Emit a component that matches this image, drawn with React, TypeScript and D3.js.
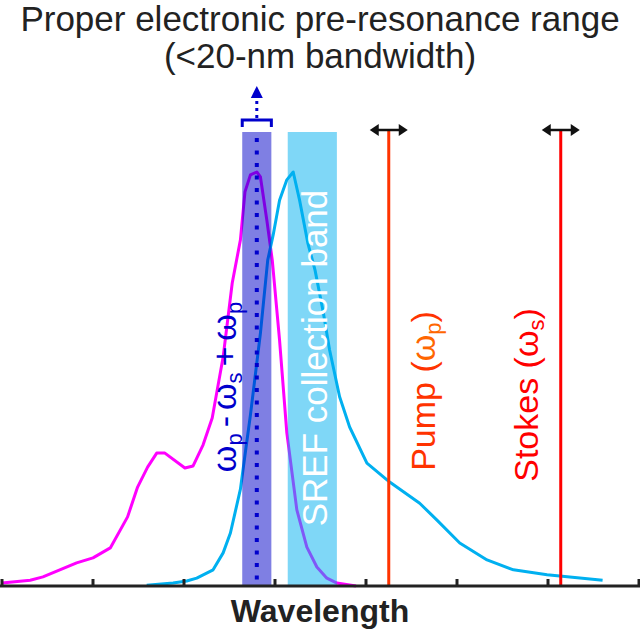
import * as d3 from "d3";

// wavelength in tick units (0..7), intensity normalised to peak = 1
const absX = [0, 0.31, 0.45, 0.82, 1.0, 1.19, 1.38, 1.49, 1.6, 1.7, 1.79, 2.01, 2.1, 2.21, 2.31, 2.43, 2.53, 2.62, 2.67, 2.73, 2.8, 2.84, 2.91, 2.97, 3.05, 3.13, 3.24, 3.35, 3.46, 3.57, 3.68, 3.89];
const absY = [0.007, 0.014, 0.022, 0.056, 0.068, 0.092, 0.167, 0.239, 0.287, 0.321, 0.321, 0.285, 0.29, 0.341, 0.406, 0.553, 0.732, 0.836, 0.952, 0.993, 1.0, 0.988, 0.884, 0.787, 0.594, 0.37, 0.184, 0.094, 0.046, 0.019, 0.007, 0.0];

const emX = [1.59, 1.88, 2.03, 2.14, 2.32, 2.43, 2.51, 2.56, 2.62, 2.67, 2.73, 2.84, 2.92, 2.98, 3.05, 3.13, 3.2, 3.27, 3.36, 3.44, 3.53, 3.6, 3.71, 3.82, 4.01, 4.26, 4.59, 4.78, 5.03, 5.33, 5.62, 5.99, 6.6];
const emY = [0.002, 0.007, 0.012, 0.019, 0.039, 0.08, 0.128, 0.176, 0.234, 0.316, 0.413, 0.611, 0.787, 0.848, 0.932, 0.981, 1.0, 0.932, 0.829, 0.763, 0.662, 0.57, 0.457, 0.384, 0.297, 0.251, 0.2, 0.159, 0.104, 0.063, 0.039, 0.027, 0.014];

const ticks = [0, 1, 2, 3, 4, 5, 6, 7];
const preBand = [2.64, 2.96];
const srefBand = [3.14, 3.68];
const preCenter = 2.8;
const pumpX = 4.25;
const stokesX = 6.14;

const W = 640;
const H = 641;
const FONT = "'Liberation Sans', Arial, sans-serif";

export default function App() {
  const x = d3.scaleLinear().domain([0, 7]).range([2, 639]);
  const y = d3.scaleLinear().domain([0, 1]).range([586, 172]);

  const absPath = d3.line<number>()
    .x((d) => x(d))
    .y((_, i) => y(absY[i]))(absX);
  const emPath = d3.line<number>()
    .x((d) => x(d))
    .y((_, i) => y(emY[i]))(emX);

  const y0 = y(0);
  const bandTop = 132;

  const dblArrow = (cx: number, cy: number) => (
    <g>
      <line x1={cx - 12} x2={cx + 12} y1={cy} y2={cy} stroke="#111" strokeWidth={2.5} />
      <path d={`M${cx - 19},${cy} L${cx - 10},${cy - 6} L${cx - 10},${cy + 6} Z`} fill="#111" />
      <path d={`M${cx + 19},${cy} L${cx + 10},${cy - 6} L${cx + 10},${cy + 6} Z`} fill="#111" />
    </g>
  );

  return (
    <svg width={W} height={H} style={{ position: "absolute", left: 0, top: 0, background: "#fff" }}>
      {/* title */}
      <text x={320} y={31} textAnchor="middle" fontFamily={FONT} fontSize={35} fill="#222">
        Proper electronic pre-resonance range
      </text>
      <text x={320} y={68} textAnchor="middle" fontFamily={FONT} fontSize={35} fill="#222">
        (&lt;20-nm bandwidth)
      </text>

      {/* spectra */}
      <path d={absPath ?? ""} fill="none" stroke="#ff00ff" strokeWidth={3} strokeLinejoin="round" />
      <path d={emPath ?? ""} fill="none" stroke="#00b0f0" strokeWidth={3} strokeLinejoin="round" />

      {/* bands */}
      <rect x={x(preBand[0])} y={bandTop} width={x(preBand[1]) - x(preBand[0])} height={y0 - bandTop} fill="#0000c8" fillOpacity={0.5} />
      <rect x={x(srefBand[0])} y={bandTop} width={x(srefBand[1]) - x(srefBand[0])} height={y0 - bandTop} fill="#00b0f0" fillOpacity={0.5} />

      {/* dotted centre + bracket + arrow */}
      <line x1={x(preCenter)} x2={x(preCenter)} y1={138} y2={y0} stroke="#0000cc" strokeWidth={4} strokeDasharray="4 8.5" />
      <line x1={x(preCenter)} x2={x(preCenter)} y1={101} y2={118} stroke="#0000cc" strokeWidth={3} strokeDasharray="3 4" />
      <path d={`M${x(preCenter)},86 L${x(preCenter) - 6},98 L${x(preCenter) + 6},98 Z`} fill="#0000cc" />
      <path
        d={`M${x(preBand[0])},127 L${x(preBand[0])},120 L${x(preBand[1])},120 L${x(preBand[1])},127`}
        fill="none"
        stroke="#0000cc"
        strokeWidth={3}
      />

      {/* pump & stokes */}
      <line x1={x(pumpX)} x2={x(pumpX)} y1={130} y2={y0} stroke="#ff3300" strokeWidth={3} />
      <line x1={x(stokesX)} x2={x(stokesX)} y1={130} y2={y0} stroke="#ff0000" strokeWidth={3} />
      {dblArrow(x(pumpX), 130)}
      {dblArrow(x(stokesX), 130)}

      {/* rotated labels */}
      <text transform={`translate(236,387) rotate(-90)`} textAnchor="middle" fontFamily={FONT} fontSize={34} fill="#0000cc">
        ω<tspan fontSize={22} dy={6}>p</tspan>
        <tspan dy={-6} dx={6}>-</tspan>
        <tspan dx={6}>ω</tspan>
        <tspan fontSize={22} dy={6}>s</tspan>
        <tspan dy={-6} dx={6}>+</tspan>
        <tspan dx={6}>ω</tspan>
        <tspan fontSize={22} dy={6}>p</tspan>
      </text>
      <text transform={`translate(327,358) rotate(-90)`} textAnchor="middle" fontFamily={FONT} fontSize={35} fill="#fff">
        SREF collection band
      </text>
      <text transform={`translate(435,391) rotate(-90)`} textAnchor="middle" fontFamily={FONT} fontSize={34} fill="#ff3300">
        Pump (<tspan fill="#ff6600">ω</tspan>
        <tspan fill="#ff6600" fontSize={22} dy={6}>p</tspan>
        <tspan dy={-6}>)</tspan>
      </text>
      <text transform={`translate(538,395) rotate(-90)`} textAnchor="middle" fontFamily={FONT} fontSize={34} fill="#ff0000">
        Stokes (ω<tspan fontSize={22} dy={6}>s</tspan>
        <tspan dy={-6}>)</tspan>
      </text>

      {/* axis */}
      <line x1={0} x2={W} y1={y0} y2={y0} stroke="#222" strokeWidth={3} />
      {ticks.map((t) => (
        <line key={t} x1={x(t)} x2={x(t)} y1={y0} y2={y0 - 7} stroke="#222" strokeWidth={3} />
      ))}
      <text x={320} y={622} textAnchor="middle" fontFamily={FONT} fontSize={32} fontWeight="bold" fill="#222">
        Wavelength
      </text>
    </svg>
  );
}
